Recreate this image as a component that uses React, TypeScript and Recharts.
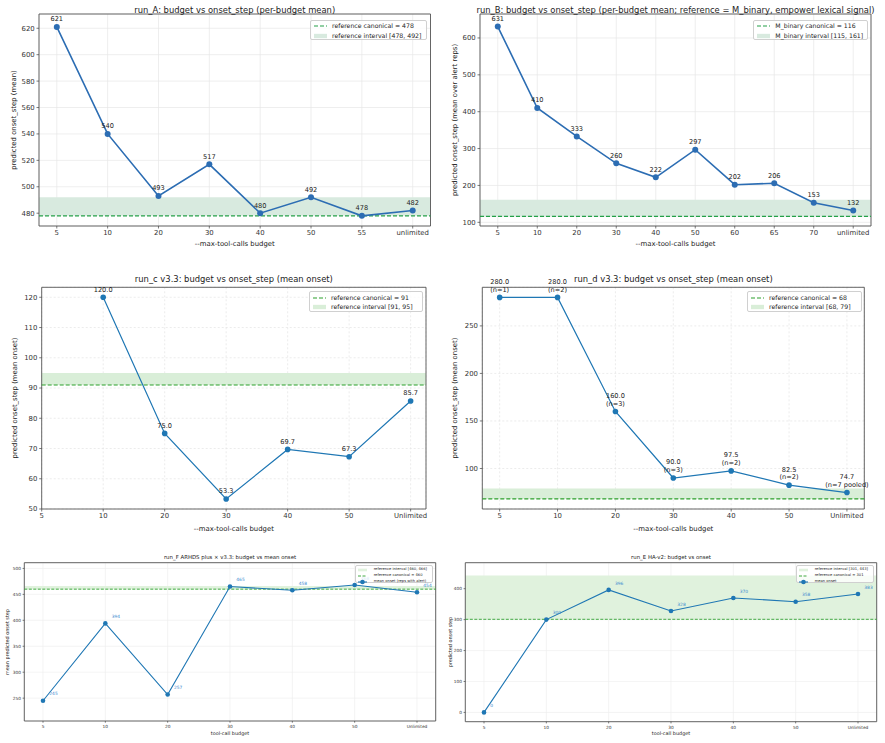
import { LineChart, Line, XAxis, YAxis, CartesianGrid, ReferenceArea, ReferenceLine, LabelList } from "recharts";

const FONT = "'DejaVu Sans', sans-serif";

// ---- data ----
const runACats = ["5", "10", "20", "30", "40", "50", "55", "unlimited"];
const runAValues = [621, 540, 493, 517, 480, 492, 478, 482];
const runARef = { canonical: 478, lo: 478, hi: 492 };

const runBCats = ["5", "10", "20", "30", "40", "50", "60", "65", "70", "unlimited"];
const runBValues = [631, 410, 333, 260, 222, 297, 202, 206, 153, 132];
const runBRef = { canonical: 116, lo: 115, hi: 161 };

const runCCats = ["5", "10", "20", "30", "40", "50", "Unlimited"];
const runCValues: (number | null)[] = [null, 120.0, 75.0, 53.3, 69.7, 67.3, 85.7];
const runCRef = { canonical: 91, lo: 91, hi: 95 };

const runDCats = ["5", "10", "20", "30", "40", "50", "Unlimited"];
const runDValues = [280.0, 280.0, 160.0, 90.0, 97.5, 82.5, 74.7];
const runDCounts = ["n=1", "n=2", "n=3", "n=3", "n=2", "n=2", "n=7 pooled"];
const runDRef = { canonical: 68, lo: 68, hi: 79 };

const runFCats = ["5", "10", "20", "30", "40", "50", "Unlimited"];
const runFValues = [245, 394, 257, 465, 458, 468, 454];
const runFRef = { canonical: 460, lo: 460, hi: 466 };

const runECats = ["5", "10", "20", "30", "40", "50", "Unlimited"];
const runEValues = [0, 300, 396, 328, 370, 358, 383];
const runERef = { canonical: 301, lo: 301, hi: 443 };

type LegendItem = { kind: "dash" | "patch" | "marker"; text: string };

type Cfg = {
  box: { x: number; y: number; w: number; h: number };
  plot: { l: number; t: number; r: number; b: number };
  cats: string[];
  values: (number | null)[];
  labels: (string | null)[];
  xDomain: [number, number];
  yDomain: [number, number];
  yTicks: number[];
  title: string;
  titleY: number;
  titleSize: number;
  xLabel: string;
  xLabelY: number;
  yLabel: string;
  yLabelX: number;
  axisLabelSize: number;
  tickFont: number;
  tickLen: number;
  tickGapX: number;
  tickGapY: number;
  yAxisW: number;
  xAxisH: number;
  ref: { canonical: number; lo: number; hi: number };
  lineColor: string;
  lineWidth: number;
  dotR: number;
  bandFill: string;
  refColor: string;
  refWidth: number;
  refDash: string;
  gridColor: string;
  gridDash?: string;
  labelMode: "above" | "aboveTwo" | "right";
  labelSize: number;
  labelColor: string;
  legend: {
    x: number; y: number; w: number; h: number; font: number;
    rows: number[]; handleX: number; handleW: number; textX: number;
    items: LegendItem[];
  };
};

function LegendBox({ cfg }: { cfg: Cfg }) {
  const lg = cfg.legend;
  return (
    <div
      style={{
        position: "absolute",
        left: lg.x - cfg.box.x,
        top: lg.y - cfg.box.y,
        width: lg.w,
        height: lg.h,
        background: "rgba(255,255,255,0.8)",
        border: "0.8px solid #d0d0d0",
        borderRadius: 2,
        boxSizing: "border-box",
        fontSize: lg.font,
        fontFamily: FONT,
        color: "#222",
      }}
    >
      {lg.items.map((it, i) => (
        <div key={i}>
          <svg
            width={lg.handleW}
            height={8}
            style={{ position: "absolute", left: lg.handleX, top: lg.rows[i] - 4 }}
          >
            {it.kind === "dash" && (
              <line x1={0} x2={lg.handleW} y1={4} y2={4} stroke={cfg.refColor} strokeWidth={cfg.refWidth} strokeDasharray={cfg.refDash} />
            )}
            {it.kind === "patch" && (
              <rect x={0} y={4 - lg.font * 0.35} width={lg.handleW} height={lg.font * 0.7} fill={cfg.bandFill} />
            )}
            {it.kind === "marker" && (
              <g>
                <line x1={0} x2={lg.handleW} y1={4} y2={4} stroke={cfg.lineColor} strokeWidth={cfg.lineWidth} />
                <circle cx={lg.handleW / 2} cy={4} r={cfg.dotR} fill={cfg.lineColor} />
              </g>
            )}
          </svg>
          <div
            style={{
              position: "absolute",
              left: lg.textX,
              top: lg.rows[i],
              transform: "translateY(-50%)",
              whiteSpace: "nowrap",
              lineHeight: 1,
            }}
          >
            {it.text}
          </div>
        </div>
      ))}
    </div>
  );
}

function Panel({ cfg }: { cfg: Cfg }) {
  const { box, plot } = cfg;
  const rows = cfg.cats.map((c, i) => ({ i, v: cfg.values[i], lab: cfg.labels[i] }));
  const idx = cfg.cats.map((_, i) => i);
  const margin = {
    top: plot.t - box.y,
    left: plot.l - box.x - cfg.yAxisW,
    right: box.x + box.w - plot.r,
    bottom: box.y + box.h - plot.b - cfg.xAxisH,
  };

  const renderLabel = (p: any) => {
    const txt = p.value;
    if (txt == null) return null;
    const x = p.x ?? p.viewBox?.x;
    const y = p.y ?? p.viewBox?.y;
    if (x == null || y == null) return null;
    const common = { fontSize: cfg.labelSize, fill: cfg.labelColor, fontFamily: FONT };
    if (cfg.labelMode === "aboveTwo") {
      const [a, b] = String(txt).split("\n");
      return (
        <text textAnchor="middle" {...common}>
          <tspan x={x} y={y - 13.6}>{a}</tspan>
          <tspan x={x} y={y - 5.8}>{b}</tspan>
        </text>
      );
    }
    if (cfg.labelMode === "right") {
      return (
        <text x={x + 6.3} y={y - 5.3} {...common}>
          {txt}
        </text>
      );
    }
    return (
      <text x={x} y={y - 5.6} textAnchor="middle" {...common}>
        {txt}
      </text>
    );
  };

  const tickStyle = { fontSize: cfg.tickFont, fill: "#333", fontFamily: FONT };

  return (
    <div style={{ position: "absolute", left: box.x, top: box.y, width: box.w, height: box.h }}>
      <LineChart width={box.w} height={box.h} data={rows} margin={margin}>
        <CartesianGrid stroke={cfg.gridColor} strokeWidth={0.7} strokeDasharray={cfg.gridDash} />
        <ReferenceArea y1={cfg.ref.lo} y2={cfg.ref.hi} fill={cfg.bandFill} fillOpacity={1} stroke="none" />
        <ReferenceLine y={cfg.ref.canonical} stroke={cfg.refColor} strokeWidth={cfg.refWidth} strokeDasharray={cfg.refDash} />
        <XAxis
          type="number"
          dataKey="i"
          domain={cfg.xDomain}
          ticks={idx}
          allowDataOverflow
          interval={0}
          tickFormatter={(v: number) => cfg.cats[v] ?? ""}
          height={cfg.xAxisH}
          tickSize={cfg.tickLen}
          tickMargin={cfg.tickGapX}
          tick={tickStyle}
          axisLine={false}
          tickLine={{ stroke: "#444", strokeWidth: 0.7 }}
        />
        <YAxis
          type="number"
          domain={cfg.yDomain}
          ticks={cfg.yTicks}
          allowDataOverflow
          interval={0}
          width={cfg.yAxisW}
          tickSize={cfg.tickLen}
          tickMargin={cfg.tickGapY}
          tick={tickStyle}
          axisLine={false}
          tickLine={{ stroke: "#444", strokeWidth: 0.7 }}
        />
        <ReferenceArea
          x1={cfg.xDomain[0]}
          x2={cfg.xDomain[1]}
          y1={cfg.yDomain[0]}
          y2={cfg.yDomain[1]}
          fill="none"
          stroke="#555"
          strokeWidth={0.9}
        />
        <Line
          type="linear"
          dataKey="v"
          stroke={cfg.lineColor}
          strokeWidth={cfg.lineWidth}
          dot={{ r: cfg.dotR, fill: cfg.lineColor, stroke: "none" }}
          activeDot={false}
          isAnimationActive={false}
        >
          <LabelList dataKey="lab" content={renderLabel} />
        </Line>
      </LineChart>
      <div
        style={{
          position: "absolute",
          left: (plot.l + plot.r) / 2 - box.x,
          top: cfg.titleY - box.y,
          transform: "translate(-50%,-50%)",
          whiteSpace: "nowrap",
          fontSize: cfg.titleSize,
          fontFamily: FONT,
          color: "#222",
          lineHeight: 1,
        }}
      >
        {cfg.title}
      </div>
      <div
        style={{
          position: "absolute",
          left: (plot.l + plot.r) / 2 - box.x,
          top: cfg.xLabelY - box.y,
          transform: "translate(-50%,-50%)",
          whiteSpace: "nowrap",
          fontSize: cfg.axisLabelSize,
          fontFamily: FONT,
          color: "#222",
          lineHeight: 1,
        }}
      >
        {cfg.xLabel}
      </div>
      <div
        style={{
          position: "absolute",
          left: cfg.yLabelX - box.x,
          top: (plot.t + plot.b) / 2 - box.y,
          transform: "translate(-50%,-50%) rotate(-90deg)",
          whiteSpace: "nowrap",
          fontSize: cfg.axisLabelSize,
          fontFamily: FONT,
          color: "#222",
          lineHeight: 1,
        }}
      >
        {cfg.yLabel}
      </div>
      <LegendBox cfg={cfg} />
    </div>
  );
}

const range = (a: number, b: number, s: number) => {
  const out: number[] = [];
  for (let v = a; v <= b + 1e-9; v += s) out.push(v);
  return out;
};

const topCommon = {
  titleSize: 8.4,
  axisLabelSize: 6.9,
  tickFont: 6.9,
  tickLen: 2.5,
  tickGapX: 1.2,
  tickGapY: 1.8,
  yAxisW: 30,
  xAxisH: 20,
  labelSize: 6.6,
  labelColor: "#222",
  refWidth: 1.2,
  refDash: "4 2",
};

const bottomCommon = {
  titleSize: 5.4,
  axisLabelSize: 4.9,
  tickFont: 4.3,
  tickLen: 1.7,
  tickGapX: 2.2,
  tickGapY: 1.6,
  yAxisW: 20,
  xAxisH: 10,
  labelSize: 4.4,
  labelColor: "#3d8bd0",
  refWidth: 0.9,
  refDash: "3 1.5",
  lineColor: "#1f77b4",
  lineWidth: 1.1,
  dotR: 2.3,
  bandFill: "#e0f2dd",
  refColor: "#2ca02c",
  gridColor: "#efefef",
  labelMode: "right" as const,
};

const panelA: Cfg = {
  ...topCommon,
  box: { x: 0, y: 0, w: 440, h: 252 },
  plot: { l: 39, t: 14, r: 430.5, b: 226 },
  cats: runACats,
  values: runAValues,
  labels: runAValues.map((v) => String(v)),
  xDomain: [-0.35, 7.35],
  yDomain: [470.3, 630.8],
  yTicks: range(480, 620, 20),
  title: "run_A: budget vs onset_step (per-budget mean)",
  titleY: 10,
  xLabel: "--max-tool-calls budget",
  xLabelY: 244.3,
  yLabel: "predicted onset_step (mean)",
  yLabelX: 14,
  ref: runARef,
  lineColor: "#2c6db3",
  lineWidth: 1.6,
  dotR: 3,
  bandFill: "#d8eadf",
  refColor: "#24a048",
  gridColor: "#e6e6e6",
  labelMode: "above",
  legend: {
    x: 310, y: 20, w: 117, h: 20, font: 6.2, rows: [5, 14.7], handleX: 3, handleW: 13, textX: 21,
    items: [
      { kind: "dash", text: `reference canonical = ${runARef.canonical}` },
      { kind: "patch", text: `reference interval [${runARef.lo}, ${runARef.hi}]` },
    ],
  },
};

const panelB: Cfg = {
  ...topCommon,
  box: { x: 440, y: 0, w: 445, h: 252 },
  plot: { l: 480, t: 14, r: 871, b: 226 },
  cats: runBCats,
  values: runBValues,
  labels: runBValues.map((v) => String(v)),
  xDomain: [-0.45, 9.45],
  yDomain: [90, 665],
  yTicks: range(100, 600, 100),
  title: "run_B: budget vs onset_step (per-budget mean; reference = M_binary, empower lexical signal)",
  titleY: 10,
  xLabel: "--max-tool-calls budget",
  xLabelY: 244.3,
  yLabel: "predicted onset_step (mean over alert reps)",
  yLabelX: 455,
  ref: runBRef,
  lineColor: "#2c6db3",
  lineWidth: 1.6,
  dotR: 3,
  bandFill: "#d8eadf",
  refColor: "#24a048",
  gridColor: "#e6e6e6",
  labelMode: "above",
  legend: {
    x: 753.3, y: 20, w: 114.4, h: 20, font: 6.2, rows: [5, 14.7], handleX: 3, handleW: 13, textX: 21,
    items: [
      { kind: "dash", text: `M_binary canonical = ${runBRef.canonical}` },
      { kind: "patch", text: `M_binary interval [${runBRef.lo}, ${runBRef.hi}]` },
    ],
  },
};

const panelC: Cfg = {
  ...topCommon,
  box: { x: 0, y: 255, w: 440, h: 285 },
  plot: { l: 41.7, t: 287.3, r: 426, b: 509 },
  cats: runCCats,
  values: runCValues,
  labels: runCValues.map((v) => (v == null ? null : v.toFixed(1))),
  xDomain: [0, 6.25],
  yDomain: [50, 123.3],
  yTicks: range(50, 120, 10),
  title: "run_c v3.3: budget vs onset_step (mean onset)",
  titleY: 279.3,
  xLabel: "--max-tool-calls budget",
  xLabelY: 529,
  yLabel: "predicted onset_step (mean onset)",
  yLabelX: 15,
  ref: runCRef,
  lineColor: "#1f77b4",
  lineWidth: 1.2,
  dotR: 2.8,
  bandFill: "#d9eed8",
  refColor: "#2ca02c",
  gridColor: "#e4e4e4",
  gridDash: "2 2",
  labelMode: "above",
  legend: {
    x: 308.7, y: 290.7, w: 114, h: 21, font: 6.2, rows: [6, 15.3], handleX: 3, handleW: 13, textX: 21.3,
    items: [
      { kind: "dash", text: `reference canonical = ${runCRef.canonical}` },
      { kind: "patch", text: `reference interval [${runCRef.lo}, ${runCRef.hi}]` },
    ],
  },
};

const panelD: Cfg = {
  ...topCommon,
  box: { x: 440, y: 255, w: 445, h: 285 },
  plot: { l: 482.3, t: 287.3, r: 864.3, b: 509 },
  cats: runDCats,
  values: runDValues,
  labels: runDValues.map((v, i) => `${v.toFixed(1)}\n(${runDCounts[i]})`),
  xDomain: [-0.3, 6.3],
  yDomain: [57.4, 290.6],
  yTicks: range(100, 250, 50),
  title: "run_d v3.3: budget vs onset_step (mean onset)",
  titleY: 279.3,
  xLabel: "--max-tool-calls budget",
  xLabelY: 529,
  yLabel: "predicted onset_step (mean onset)",
  yLabelX: 455,
  ref: runDRef,
  lineColor: "#1f77b4",
  lineWidth: 1.2,
  dotR: 2.8,
  bandFill: "#d9eed8",
  refColor: "#2ca02c",
  gridColor: "#e4e4e4",
  gridDash: "2 2",
  labelMode: "aboveTwo",
  legend: {
    x: 746.7, y: 290.7, w: 115, h: 21, font: 6.2, rows: [6, 15.3], handleX: 3, handleW: 13, textX: 21.3,
    items: [
      { kind: "dash", text: `reference canonical = ${runDRef.canonical}` },
      { kind: "patch", text: `reference interval [${runDRef.lo}, ${runDRef.hi}]` },
    ],
  },
};

const panelF: Cfg = {
  ...bottomCommon,
  box: { x: 0, y: 540, w: 440, h: 203 },
  plot: { l: 24.3, t: 562.7, r: 435.7, b: 721 },
  cats: runFCats,
  values: runFValues,
  labels: runFValues.map((v) => String(v)),
  xDomain: [-0.3, 6.3],
  yDomain: [206, 511],
  yTicks: range(250, 500, 50),
  title: "run_F ARHDS plus × v3.3: budget vs mean onset",
  titleY: 558.3,
  xLabel: "tool-call budget",
  xLabelY: 733.3,
  yLabel: "mean predicted onset step",
  yLabelX: 7.3,
  ref: runFRef,
  legend: {
    x: 355, y: 565, w: 78.3, h: 18.3, font: 3.7, rows: [3.7, 9.7, 15.7], handleX: 1.7, handleW: 9, textX: 17.7,
    items: [
      { kind: "patch", text: `reference interval [${runFRef.lo}, ${runFRef.hi}]` },
      { kind: "dash", text: `reference canonical = ${runFRef.canonical}` },
      { kind: "marker", text: "mean onset (reps with alert)" },
    ],
  },
};

const panelE: Cfg = {
  ...bottomCommon,
  box: { x: 440, y: 540, w: 445, h: 203 },
  plot: { l: 465.3, t: 562.7, r: 876.7, b: 721.7 },
  cats: runECats,
  values: runEValues,
  labels: runEValues.map((v) => String(v)),
  xDomain: [-0.3, 6.3],
  yDomain: [-30, 484],
  yTicks: range(0, 400, 100),
  title: "run_E HA-v2: budget vs onset",
  titleY: 558.3,
  xLabel: "tool-call budget",
  xLabelY: 733.3,
  yLabel: "predicted onset step",
  yLabelX: 450,
  ref: runERef,
  legend: {
    x: 796, y: 565, w: 78.3, h: 18.3, font: 3.7, rows: [3.7, 9.7, 15.7], handleX: 1.7, handleW: 9, textX: 17.7,
    items: [
      { kind: "patch", text: `reference interval [${runERef.lo}, ${runERef.hi}]` },
      { kind: "dash", text: `reference canonical = ${runERef.canonical}` },
      { kind: "marker", text: "mean onset" },
    ],
  },
};

export default function App() {
  return (
    <div style={{ position: "absolute", left: 0, top: 0, width: 885, height: 743, background: "#fff", overflow: "hidden" }}>
      {[panelA, panelB, panelC, panelD, panelF, panelE].map((cfg, i) => (
        <Panel key={i} cfg={cfg} />
      ))}
    </div>
  );
}
